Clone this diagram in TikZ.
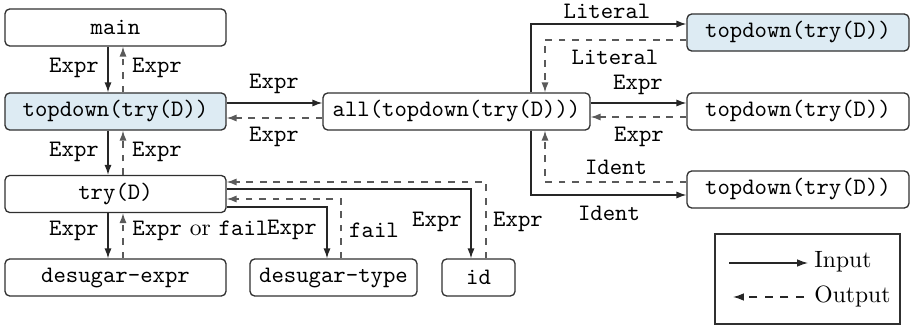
\documentclass[tikz,border=0pt]{standalone}
\usetikzlibrary{arrows.meta}
\definecolor{boxblue}{HTML}{DDEBF3}
\definecolor{edge}{HTML}{303030}
\definecolor{dashc}{HTML}{5A5A5A}
\tikzset{
  box/.style={draw=edge, line width=0.55pt, rounded corners=2pt, minimum height=15.7pt, inner sep=0pt, font=\ttfamily},
  hl/.style={fill=boxblue},
  inp/.style={draw=black!85, line width=0.55pt, -{Latex[length=4.2pt,width=3pt]}},
  outp/.style={draw=dashc, line width=0.55pt, dash pattern=on 2.85pt off 2.85pt, -{Latex[length=4.2pt,width=3pt]}},
  legout/.style={draw=black!85, line width=0.55pt, dash pattern=on 3.4pt off 3.2pt, -{Latex[length=4.6pt,width=3.2pt]}},
  lbl/.style={font=\ttfamily, inner sep=0pt},
}
\begin{document}
\begin{tikzpicture}[x=0.424pt,y=-0.424pt]
\useasboundingbox (0,0) rectangle (911,328);
% nodes
\node[box, minimum width=93.7pt] (main) at (115.5,27.5) {main};
\node[box, hl, minimum width=93.7pt] (td) at (115.5,111.5) {topdown(try(D))};
\node[box, minimum width=93.7pt] (try) at (115.5,194) {try(D)};
\node[box, minimum width=93.7pt] (dex) at (115.5,277.5) {desugar-expr};
\node[box, minimum width=70.8pt] (dty) at (333.5,277.5) {desugar-type};
\node[box, minimum width=31pt] (id) at (478.5,277.5) {id};
\node[box, minimum width=113.2pt] (all) at (456.5,111.5) {all(topdown(try(D)))};
\node[box, hl, minimum width=94.1pt] (r1) at (798,32.5) {topdown(try(D))};
\node[box, minimum width=94.1pt] (r2) at (798,111.5) {topdown(try(D))};
\node[box, minimum width=94.1pt] (r3) at (798,189.5) {topdown(try(D))};
% helper coordinates
\coordinate (xa) at (108,0);
\coordinate (xb) at (123,0);
\coordinate (ya) at (0,103);
\coordinate (yb) at (0,118);
\coordinate (yc) at (0,117);
\coordinate (ta) at (327,207);
\coordinate (tb) at (341,199);
\coordinate (ia) at (471,189);
\coordinate (ib) at (486,182);
\coordinate (la) at (531,24);
\coordinate (lb) at (545,40);
\coordinate (ka) at (531,195);
\coordinate (kb) at (545,182);
% vertical left column
\draw[inp] (main.south -| xa) -- (td.north -| xa);
\draw[outp] (td.north -| xb) -- (main.south -| xb);
\draw[inp] (td.south -| xa) -- (try.north -| xa);
\draw[outp] (try.north -| xb) -- (td.south -| xb);
\draw[inp] (try.south -| xa) -- (dex.north -| xa);
\draw[outp] (dex.north -| xb) -- (try.south -| xb);
% td <-> all
\draw[inp] (td.east |- ya) -- (all.west |- ya);
\draw[outp] (all.west |- yb) -- (td.east |- yb);
% try -> desugar-type
\draw[inp] (try.east |- ta) -- (ta) -- (dty.north -| ta);
\draw[outp] (dty.north -| tb) -- (tb) -- (try.east |- tb);
% try -> id
\draw[inp] (try.east |- ia) -- (ia) -- (id.north -| ia);
\draw[outp] (id.north -| ib) -- (ib) -- (try.east |- ib);
% all -> r1
\draw[inp] (all.north -| la) -- (la) -- (r1.west |- la);
\draw[outp] (r1.west |- lb) -- (lb) -- (all.north -| lb);
% all -> r2
\draw[inp] (all.east |- ya) -- (r2.west |- ya);
\draw[outp] (r2.west |- yc) -- (all.east |- yc);
% all -> r3
\draw[inp] (all.south -| ka) -- (ka) -- (r3.west |- ka);
\draw[outp] (r3.west |- kb) -- (kb) -- (all.south -| kb);
% labels
\node[lbl] (l1) at (74,68) {Expr};
\node[lbl] (l2) at (157,68) {Expr};
\node[lbl] (l3) at (74,152) {Expr};
\node[lbl] (l4) at (157,152) {Expr};
\node[lbl] (l5) at (274,84) {Expr};
\node[lbl] (l6) at (274,137) {Expr};
\node[lbl] (l7) at (74,231) {Expr};
\node[inner sep=0pt, anchor=west] (l8) at (132,231) {\texttt{Expr} or \texttt{fail}};
\node[lbl] (l9) at (292,230) {Expr};
\node[lbl] (l10) at (374,230) {fail};
\node[lbl] (l11) at (437,222) {Expr};
\node[lbl] (l12) at (518,222) {Expr};
\node[lbl] (l13) at (607,11) {Literal};
\node[lbl] (l14) at (615,57) {Literal};
\node[lbl] (l15) at (638,85) {Expr};
\node[lbl] (l16) at (639,137) {Expr};
\node[lbl] (l17) at (616,167) {Ident};
\node[lbl] (l18) at (609,213) {Ident};
% legend
\draw[draw=edge, line width=0.55pt] (715,234) rectangle (900,324);
\coordinate (g1) at (729,263);
\coordinate (g2) at (808,263);
\coordinate (g3) at (804,297);
\coordinate (g4) at (733,297);
\draw[inp, -{Latex[length=4.6pt,width=3.2pt]}] (g1) -- (g2);
\draw[legout] (g3) -- (g4);
\node[anchor=west, inner sep=0pt] (gi) at (814,262) {Input};
\node[anchor=west, inner sep=0pt] (go) at (814,296) {Output};
\end{tikzpicture}
\end{document}
